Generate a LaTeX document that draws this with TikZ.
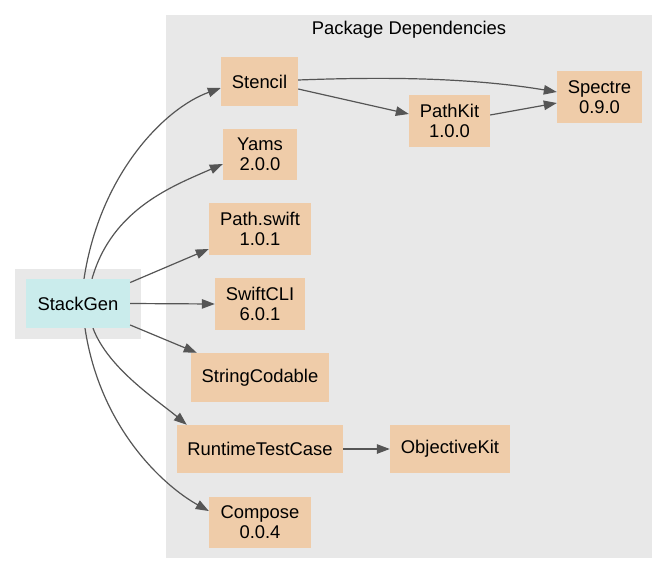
\documentclass[tikz,border=0pt]{standalone}
\usepackage{fontspec}
\setmainfont{Liberation Sans}
\usetikzlibrary{arrows.meta}
\definecolor{clusterbg}{HTML}{E8E8E8}
\definecolor{pkgfill}{HTML}{EFCCA9}
\definecolor{rootfill}{HTML}{CAECEC}
\definecolor{edgecol}{HTML}{555555}
\begin{document}
\begin{tikzpicture}[x=1pt,y=-1pt,
  box/.style={draw=none, inner sep=0pt, align=center, font=\fontsize{18.4}{20}\selectfont, text=black},
  pkg/.style={box, fill=pkgfill},
  root/.style={box, fill=rootfill},
  cluster/.style={draw=none, fill=clusterbg, inner sep=0pt},
  dep/.style={draw=edgecol, line width=1.2pt, -{Triangle[length=13pt,width=9.5pt]}}
]
\useasboundingbox (0,0) rectangle (668,575);
% clusters
\node[cluster, minimum width=486pt, minimum height=543pt] (pkgs) at (409,286.5) {};
\node[cluster, minimum width=126pt, minimum height=70pt] (rootc) at (78,304) {};
\node[box] (title) at (409,30) {Package Dependencies};
% nodes
\node[root, minimum width=104pt, minimum height=49pt] (sg) at (78,303.5) {StackGen};
\node[pkg, minimum width=77pt, minimum height=49pt] (stencil) at (259.5,81.5) {Stencil};
\node[pkg, minimum width=85pt, minimum height=52pt] (spectre) at (599.5,97) {Spectre\\0.9.0};
\node[pkg, minimum width=81pt, minimum height=52pt] (pathkit) at (449.5,121) {PathKit\\1.0.0};
\node[pkg, minimum width=74pt, minimum height=51pt] (yams) at (260,154.5) {Yams\\2.0.0};
\node[pkg, minimum width=102pt, minimum height=52pt] (pw) at (260,229) {Path.swift\\1.0.1};
\node[pkg, minimum width=90pt, minimum height=52pt] (cli) at (260,304) {SwiftCLI\\6.0.1};
\node[pkg, minimum width=138pt, minimum height=49pt] (sc) at (260,377.5) {StringCodable};
\node[pkg, minimum width=166pt, minimum height=48pt] (rtc) at (260,449) {RuntimeTestCase};
\node[pkg, minimum width=120pt, minimum height=48pt] (ok) at (450,449) {ObjectiveKit};
\node[pkg, minimum width=102pt, minimum height=51pt] (comp) at (260,522.5) {Compose\\0.0.4};
% edges
\draw[dep] ([xshift=6pt]sg.north) .. controls +(16,-105) and +(-56,20) .. ([yshift=-6.5pt]stencil.west);
\draw[dep] ([xshift=14pt]sg.north) .. controls +(20,-70) and +(-50,22) .. ([yshift=-9.5pt]yams.west);
\draw[dep] ([yshift=21pt]sg.east) -- ([yshift=-20pt]pw.west);
\draw[dep] (sg.east) -- (cli.west);
\draw[dep] ([yshift=-21.5pt]sg.east) -- ([xshift=6pt]sc.north west);
\draw[dep] ([xshift=15pt]sg.south) .. controls +(15,40) and +(-30,-25) .. ([xshift=10pt]rtc.north west);
\draw[dep] ([xshift=7pt]sg.south) .. controls +(15,100) and +(-45,-25) .. ([yshift=11.5pt]comp.west);
\draw[dep] ([yshift=1.5pt]stencil.east) .. controls +(80,-3) and +(-90,-15) .. ([yshift=5pt]spectre.west);
\draw[dep] ([yshift=-7.5pt]stencil.east) -- ([yshift=7pt]pathkit.west);
\draw[dep] ([yshift=6pt]pathkit.east) -- ([yshift=-6pt]spectre.west);
\draw[dep] (rtc.east) -- (ok.west);
\end{tikzpicture}
\end{document}
